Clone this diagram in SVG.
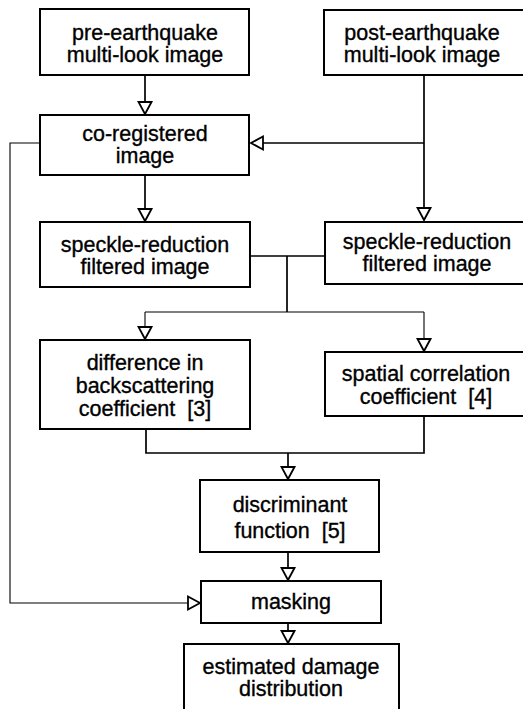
<svg xmlns="http://www.w3.org/2000/svg" width="523" height="709" viewBox="0 0 523 709">
<style>
.box{fill:#fff;stroke:#000;stroke-width:2}
.t{font-family:"Liberation Sans",Arial,sans-serif;font-size:21.5px;text-anchor:middle;fill:#000;stroke:#000;stroke-width:0.35}
.c{fill:none;stroke:#000;stroke-width:1.7}
.thin{fill:none;stroke:#000;stroke-width:1.1}
</style>
<defs>
<marker id="ah" markerUnits="userSpaceOnUse" markerWidth="16" markerHeight="16" refX="12" refY="6.5" orient="auto" viewBox="-1.5 -1.5 16 16">
<path d="M0,0 L12,6.5 L0,13 Z" fill="#fff" stroke="#000" stroke-width="1.8"/>
</marker>
</defs>
<rect width="523" height="709" fill="#fff"/>
<g id="connectors">
<path class="c" d="M145,75 V114" marker-end="url(#ah)"/>
<path class="c" d="M424,75 V220" marker-end="url(#ah)"/>
<path class="c" d="M424,143 H251" marker-end="url(#ah)"/>
<path class="c" d="M145,175 V221" marker-end="url(#ah)"/>
<path class="thin" d="M40,143 H10 V603 H200" marker-end="url(#ah)"/>
<path class="c" d="M250,256 H325 M287,256 V312"/>
<path class="thin" d="M145,312 H424"/>
<path class="thin" d="M145,312 V339" marker-end="url(#ah)"/>
<path class="thin" d="M424,312 V351" marker-end="url(#ah)"/>
<path class="c" d="M146,429 V453 H424 V416"/>
<path class="c" d="M288,453 V479" marker-end="url(#ah)"/>
<path class="c" d="M288,552 V580" marker-end="url(#ah)"/>
<path class="c" d="M288,623 V643" marker-end="url(#ah)"/>
</g>
<g id="pre">
<rect class="box" x="40" y="9" width="209" height="66"/>
<text class="t" x="145" y="40">pre-earthquake</text>
<text class="t" x="145" y="62">multi-look image</text>
</g>
<g id="post">
<rect class="box" x="324" y="10" width="220" height="65"/>
<text class="t" x="422" y="40">post-earthquake</text>
<text class="t" x="422" y="62">multi-look image</text>
</g>
<g id="coreg">
<rect class="box" x="40" y="115" width="209" height="60"/>
<text class="t" x="145" y="141">co-registered</text>
<text class="t" x="145" y="163">image</text>
</g>
<g id="speckle-left">
<rect class="box" x="40" y="222" width="210" height="65"/>
<text class="t" x="145" y="252">speckle-reduction</text>
<text class="t" x="145" y="274">filtered image</text>
</g>
<g id="speckle-right">
<rect class="box" x="325" y="222" width="220" height="62"/>
<text class="t" x="427" y="249">speckle-reduction</text>
<text class="t" x="427" y="271">filtered image</text>
</g>
<g id="difference">
<rect class="box" x="40" y="340" width="210" height="89"/>
<text class="t" x="145" y="370">difference in</text>
<text class="t" x="145" y="393">backscattering</text>
<text class="t" x="145" y="416" xml:space="preserve">coefficient  [3]</text>
</g>
<g id="spatial">
<rect class="box" x="325" y="352" width="220" height="64"/>
<text class="t" x="426" y="381">spatial correlation</text>
<text class="t" x="426" y="404" xml:space="preserve">coefficient  [4]</text>
</g>
<g id="discriminant">
<rect class="box" x="200" y="480" width="179" height="72"/>
<text class="t" x="290" y="512">discriminant</text>
<text class="t" x="290" y="538" xml:space="preserve">function  [5]</text>
</g>
<g id="masking">
<rect class="box" x="201" y="581" width="180" height="42"/>
<text class="t" x="291" y="609">masking</text>
</g>
<g id="estimated">
<rect class="box" x="184" y="644" width="215" height="80"/>
<text class="t" x="291" y="674">estimated damage</text>
<text class="t" x="291" y="696">distribution</text>
</g>
</svg>
